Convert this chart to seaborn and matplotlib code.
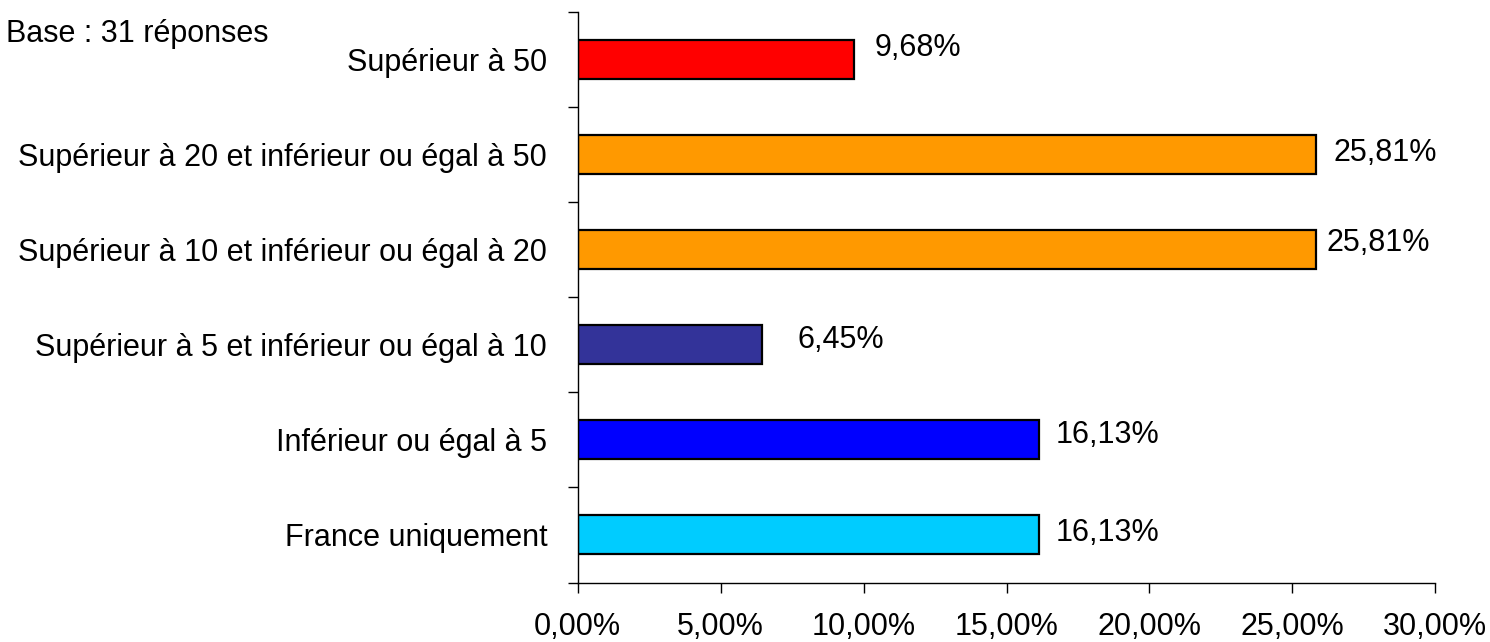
import matplotlib
matplotlib.use("Agg")
import matplotlib.pyplot as plt
import seaborn as sns
import pandas as pd
from matplotlib.ticker import FixedLocator

categories = [
    "Supérieur à 50",
    "Supérieur à 20 et inférieur ou égal à 50",
    "Supérieur à 10 et inférieur ou égal à 20",
    "Supérieur à 5 et inférieur ou égal à 10",
    "Inférieur ou égal à 5",
    "France uniquement",
]
values = [9.68, 25.81, 25.81, 6.45, 16.13, 16.13]
value_labels = ["9,68%", "25,81%", "25,81%", "6,45%", "16,13%", "16,13%"]
x_ticks = [0, 5, 10, 15, 20, 25, 30]
x_tick_labels = ["0,00%", "5,00%", "10,00%", "15,00%", "20,00%", "25,00%", "30,00%"]
colors = ["#FF0000", "#FF9900", "#FF9900", "#333399", "#0000FF", "#00CCFF"]
note = "Base : 31 réponses"

# label offsets in pixels (gap from bar end, shift above bar centre)
label_dx = [20, 18, 11, 35, 17, 17]
label_dy = [12, 2, 7, 5, 5, 2]

sns.set_theme(style="white")
plt.rcParams["font.family"] = ["Liberation Sans", "DejaVu Sans"]

W, H = 1490, 642
fig = plt.figure(figsize=(W / 100, H / 100), dpi=100)
left, right, top, bottom = 577.7, 1435.3, 12.0, 582.5
ax = fig.add_axes([left / W, 1 - bottom / H, (right - left) / W, (bottom - top) / H])

df = pd.DataFrame({"cat": categories, "val": values})
sns.barplot(data=df, x="val", y="cat", hue="cat", palette=colors, legend=False,
            width=0.41, edgecolor="black", linewidth=1.6, orient="h", ax=ax, saturation=1)

ax.set_xlim(0, 30)
ax.set_ylim(5.5, -0.5)
ax.set_xlabel("")
ax.set_ylabel("")

ax.set_xticks(x_ticks)
ax.set_xticklabels(x_tick_labels)
ax.tick_params(axis="x", which="major", direction="out", length=7.5, width=1.0,
               color="black", pad=14, labelsize=22, labelcolor="black", bottom=True)
ax.tick_params(axis="y", which="major", length=0, pad=22, labelsize=22, labelcolor="black", left=True)
ax.yaxis.set_minor_locator(FixedLocator([i - 0.5 for i in range(len(categories) + 1)]))
ax.tick_params(axis="y", which="minor", direction="out", length=7.5, width=1.0, color="black", left=True)

for s in ["top", "right"]:
    ax.spines[s].set_visible(False)
for s in ["left", "bottom"]:
    ax.spines[s].set_color("black")
    ax.spines[s].set_linewidth(1.0)

for i, (v, lab) in enumerate(zip(values, value_labels)):
    ax.annotate(lab, xy=(v, i), xytext=(label_dx[i] * 0.72, label_dy[i] * 0.72),
                textcoords="offset points", ha="left", va="center",
                fontsize=22, color="black")

fig.text(6 / W, 1 - 42 / H, note, ha="left", va="baseline", fontsize=22, color="black")

fig.savefig("out.png", dpi=100)
